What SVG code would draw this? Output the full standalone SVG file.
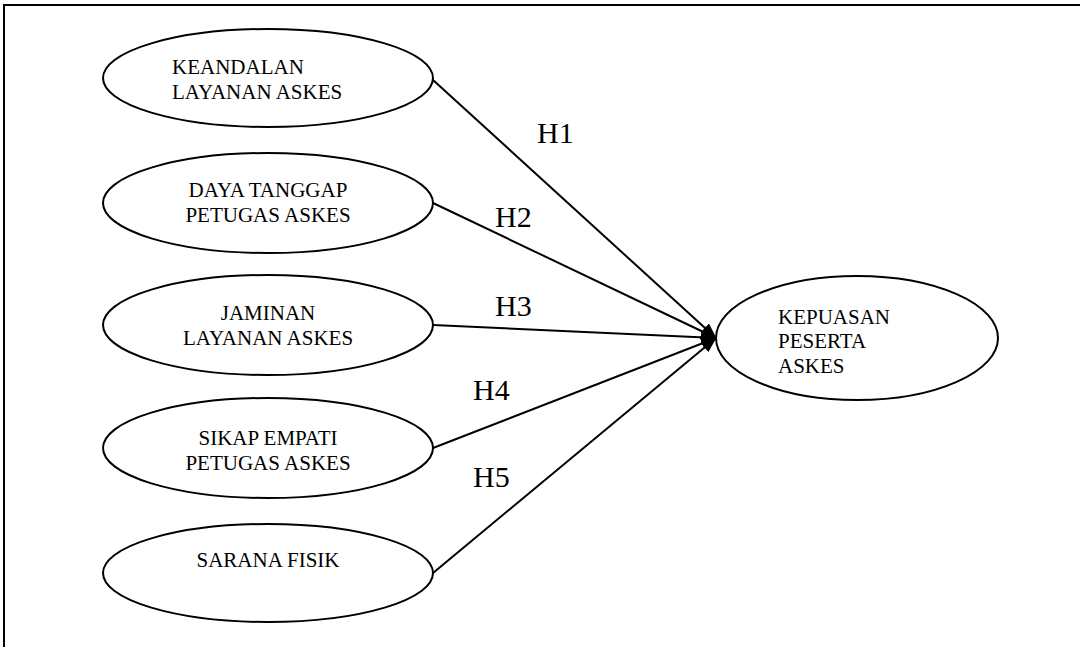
<svg xmlns="http://www.w3.org/2000/svg" width="1080" height="647" viewBox="0 0 1080 647">
<style>
.node ellipse{fill:#fff;stroke:#000;stroke-width:2}
.t{font-family:"Liberation Serif","Times New Roman",serif;font-size:21px;fill:#000}
.h{font-family:"Liberation Serif","Times New Roman",serif;font-size:30px;fill:#000}
.c line{stroke:#000;stroke-width:2;marker-end:url(#ah)}
</style>
<defs>
<marker id="ah" viewBox="0 0 16 12" refX="15" refY="6" markerWidth="16" markerHeight="12" markerUnits="userSpaceOnUse" orient="auto">
<path d="M0,0 L16,6 L0,12 z" fill="#000"/>
</marker>
</defs>
<rect width="1080" height="647" fill="#fff"/>
<polyline points="4,647 4,5 1080,5" fill="none" stroke="#000" stroke-width="2"/>
<g class="c">
<line x1="433" y1="80" x2="716" y2="338"/>
<line x1="433" y1="203" x2="716" y2="338"/>
<line x1="433" y1="325" x2="716" y2="338"/>
<line x1="433" y1="448" x2="716" y2="338"/>
<line x1="433" y1="573" x2="716" y2="338"/>
</g>
<g id="labels">
<text class="h" x="537" y="143">H1</text>
<text class="h" x="495" y="227">H2</text>
<text class="h" x="495" y="316">H3</text>
<text class="h" x="473" y="400">H4</text>
<text class="h" x="473" y="487">H5</text>
</g>
<g id="n1" class="node">
<ellipse cx="268" cy="78" rx="165" ry="49"/>
<text class="t" x="172" y="74">KEANDALAN</text>
<text class="t" x="172" y="99">LAYANAN ASKES</text>
</g>
<g id="n2" class="node">
<ellipse cx="268" cy="203" rx="165" ry="50"/>
<text class="t" x="268" y="197" text-anchor="middle">DAYA TANGGAP</text>
<text class="t" x="268" y="222" text-anchor="middle">PETUGAS ASKES</text>
</g>
<g id="n3" class="node">
<ellipse cx="268" cy="325" rx="165" ry="50"/>
<text class="t" x="268" y="320" text-anchor="middle">JAMINAN</text>
<text class="t" x="268" y="345" text-anchor="middle">LAYANAN ASKES</text>
</g>
<g id="n4" class="node">
<ellipse cx="268" cy="448" rx="165" ry="50"/>
<text class="t" x="268" y="445" text-anchor="middle">SIKAP EMPATI</text>
<text class="t" x="268" y="470" text-anchor="middle">PETUGAS ASKES</text>
</g>
<g id="n5" class="node">
<ellipse cx="268" cy="573" rx="165" ry="49"/>
<text class="t" x="268" y="567" text-anchor="middle">SARANA FISIK</text>
</g>
<g id="n6" class="node">
<ellipse cx="857" cy="338" rx="141" ry="62"/>
<text class="t" x="778" y="324">KEPUASAN</text>
<text class="t" x="778" y="348">PESERTA</text>
<text class="t" x="778" y="373">ASKES</text>
</g>
</svg>
